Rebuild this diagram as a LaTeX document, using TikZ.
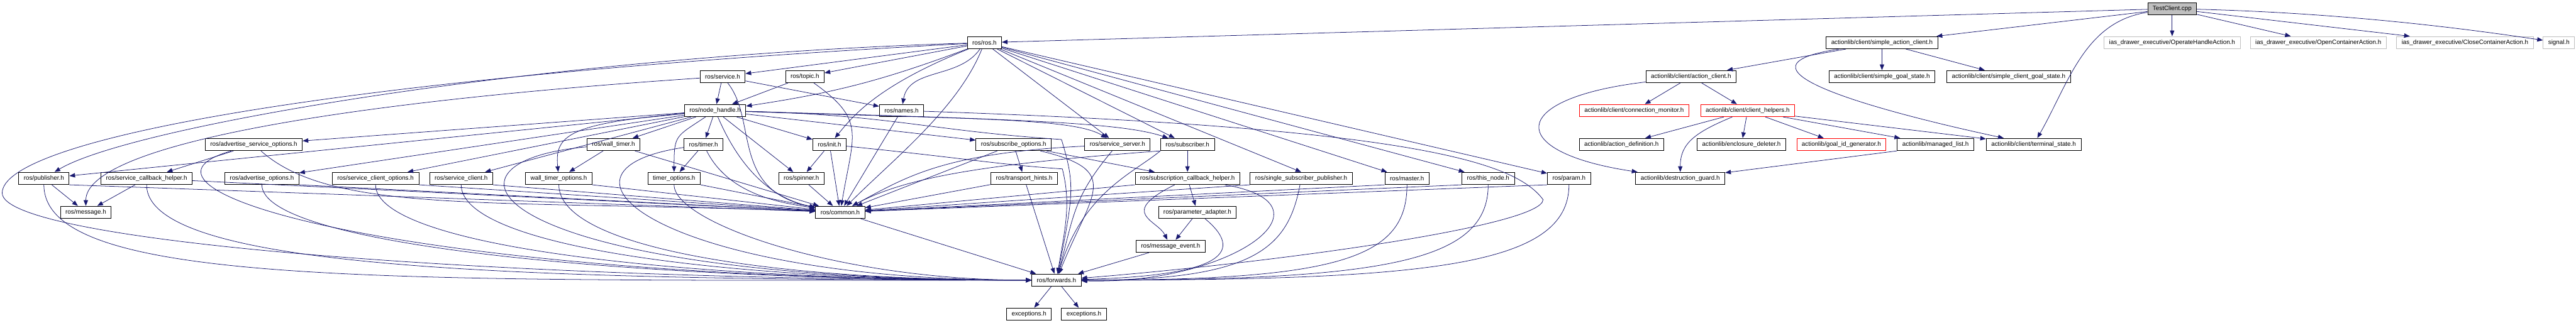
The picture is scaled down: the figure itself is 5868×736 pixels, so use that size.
\documentclass[tikz,border=0pt]{standalone}
\usepackage{fontspec}
\setmainfont{Liberation Sans}
\usetikzlibrary{arrows.meta}
\definecolor{edgeblue}{RGB}{25,25,112}
\definecolor{doxgrey}{RGB}{191,191,191}
\begin{document}
\begin{tikzpicture}[x=1pt,y=1pt,>={Triangle[length=13pt,width=10pt]}]
    \tikzset{box/.style={draw=black, line width=1.2pt, fill=white, minimum height=28pt, inner xsep=11.5pt, inner ysep=0pt, font=\fontsize{14.1}{17}\selectfont},
        redbox/.style={box, draw=red},
        greybox/.style={box, draw=doxgrey},
        rootbox/.style={box, fill=doxgrey},
        incl/.style={->, draw=edgeblue, line width=1.1pt}}
    \useasboundingbox (0,0) rectangle (5868,-736);
    % row 0 and 1
    \node[rootbox] (test) at (4948,-19.7) {TestClient.cpp};
    \node[box] (ros) at (2242.5,-97.2) {ros/ros.h};
    \node[box] (sac) at (4287,-97.2) {actionlib/client/simple\_action\_client.h};
    \node[greybox] (operate) at (4948,-97.2) {ias\_drawer\_executive/OperateHandleAction.h};
    \node[greybox] (openc) at (5281,-97.2) {ias\_drawer\_executive/OpenContainerAction.h};
    \node[greybox] (closec) at (5615,-97.2) {ias\_drawer\_executive/CloseContainerAction.h};
    \node[greybox] (signal) at (5829,-97.2) {signal.h};
    % row 2
    \node[box] (service) at (1646,-174.6) {ros/service.h};
    \node[box] (topic) at (1833.5,-174.6) {ros/topic.h};
    \node[box] (ac) at (3852,-174.6) {actionlib/client/action\_client.h};
    \node[box] (sgs) at (4287,-174.6) {actionlib/client/simple\_goal\_state.h};
    \node[box] (scgs) at (4575.5,-174.6) {actionlib/client/simple\_client\_goal\_state.h};
    % row 3
    \node[box] (nh) at (1629,-252) {ros/node\_handle.h};
    \node[box] (names) at (2053.5,-252) {ros/names.h};
    \node[redbox] (cm) at (3722.5,-252) {actionlib/client/connection\_monitor.h};
    \node[redbox] (ch) at (3981,-252) {actionlib/client/client\_helpers.h};
    % row 4
    \node[box] (aso) at (578,-329.4) {ros/advertise\_service\_options.h};
    \node[box] (wtimer) at (1397.5,-329.4) {ros/wall\_timer.h};
    \node[box] (timer) at (1602.5,-329.4) {ros/timer.h};
    \node[box] (init) at (1889.5,-329.4) {ros/init.h};
    \node[box] (subopt) at (2309,-329.4) {ros/subscribe\_options.h};
    \node[box] (srvserver) at (2545.5,-329.4) {ros/service\_server.h};
    \node[box] (sub) at (2705,-329.4) {ros/subscriber.h};
    \node[box] (adef) at (3693.5,-329.4) {actionlib/action\_definition.h};
    \node[box] (edel) at (3967,-329.4) {actionlib/enclosure\_deleter.h};
    \node[redbox] (gid) at (4194.5,-329.4) {actionlib/goal\_id\_generator.h};
    \node[box] (mlist) at (4409,-329.4) {actionlib/managed\_list.h};
    \node[box] (tstate) at (4632.5,-329.4) {actionlib/client/terminal\_state.h};
    % row 5
    \node[box] (pub) at (100,-406.7) {ros/publisher.h};
    \node[box] (sch) at (334,-406.7) {ros/service\_callback\_helper.h};
    \node[box] (ao) at (596.5,-406.7) {ros/advertise\_options.h};
    \node[box] (sco) at (855.5,-406.7) {ros/service\_client\_options.h};
    \node[box] (sclient) at (1050.5,-406.7) {ros/service\_client.h};
    \node[box] (wtopt) at (1273,-406.7) {wall\_timer\_options.h};
    \node[box] (tmopt) at (1535.5,-406.7) {timer\_options.h};
    \node[box] (spinner) at (1825.5,-406.7) {ros/spinner.h};
    \node[box] (th) at (2333,-406.7) {ros/transport\_hints.h};
    \node[box] (sbch) at (2705,-406.7) {ros/subscription\_callback\_helper.h};
    \node[box] (ssp) at (2964,-406.7) {ros/single\_subscriber\_publisher.h};
    \node[box] (master) at (3205,-406.7) {ros/master.h};
    \node[box] (thisnode) at (3390,-406.7) {ros/this\_node.h};
    \node[box] (param) at (3574,-406.7) {ros/param.h};
    \node[box] (dguard) at (3827.5,-406.7) {actionlib/destruction\_guard.h};
    % rows 6 to 9
    \node[box] (msg) at (195.5,-484) {ros/message.h};
    \node[box] (common) at (1914,-484) {ros/common.h};
    \node[box] (padapt) at (2727.5,-484) {ros/parameter\_adapter.h};
    \node[box] (mevent) at (2666.5,-561.4) {ros/message\_event.h};
    \node[box] (fwd) at (2406.5,-638.7) {ros/forwards.h};
    \node[box] (exc1) at (2344,-716.1) {exceptions.h};
    \node[box] (exc2) at (2469,-716.1) {exceptions.h};
    % TestClient.cpp
    \draw[incl] (test) -- (ros);
    \draw[incl] (test) -- (sac);
    \draw[incl] (test) .. controls +(-200,-30) and +(80,140) .. (tstate);
    \draw[incl] (test) -- (operate);
    \draw[incl] (test) -- (openc);
    \draw[incl] (test) -- (closec);
    \draw[incl] (test) .. controls +(400,-10) and +(-200,30) .. (signal);
    % actionlib
    \draw[incl] (sac) -- (ac);
    \draw[incl] (sac) -- (sgs);
    \draw[incl] (sac) -- (scgs);
    \draw[incl] (sac) .. controls +(-400,-60) and +(-280,60) .. (tstate);
    \draw[incl] (ac) -- (cm);
    \draw[incl] (ac) -- (ch);
    \draw[incl] (ac) .. controls +(-420,-50) and +(-400,60) .. (dguard);
    \draw[incl] (ch) -- (adef);
    \draw[incl] (ch) -- (edel);
    \draw[incl] (ch) .. controls +(-120,-50) and +(0,80) .. (dguard);
    \draw[incl] (ch) -- (gid);
    \draw[incl] (ch) -- (mlist);
    \draw[incl] (ch) -- (tstate);
    \draw[incl] (mlist.south west) -- (dguard);
    % ros/ros.h
    \draw[incl] (ros) -- (service);
    \draw[incl] (ros) -- (topic);
    \draw[incl] (ros) to[bend left=6] (nh);
    \draw[incl] (ros) to[out=235,in=80] (names);
    \draw[incl] (ros) .. controls +(-1000,-30) and +(200,120) .. (pub);
    \draw[incl] (ros) .. controls +(-250,-100) and +(50,60) .. (init);
    \draw[incl] (ros) .. controls +(-60,-150) and +(120,120) .. (common);
    \draw[incl] (ros) -- (srvserver);
    \draw[incl] (ros) -- (sub);
    \draw[incl] (ros) -- (ssp.north);
    \draw[incl] (ros) -- (master);
    \draw[incl] (ros) -- (thisnode);
    \draw[incl] (ros) -- (param);
    \draw[incl] (ros) .. controls +(-1500,-80) and +(0,120) .. (5,-440) .. controls +(0,-110) and +(-1300,0) .. (fwd);
    % ros/service.h, ros/topic.h
    \draw[incl] (service) -- (nh);
    \draw[incl] (service) -- (names);
    \draw[incl] (service) .. controls +(80,-100) and +(-250,50) .. (common);
    \draw[incl] (service) .. controls +(-900,-60) and +(0,150) .. (msg);
    \draw[incl] (topic) -- (nh);
    \draw[incl] (topic) .. controls +(140,-100) and +(30,180) .. (common);
    % ros/node_handle.h
    \draw[incl] (nh) -- (pub);
    \draw[incl] (nh) -- (aso);
    \draw[incl] (nh) -- (ao);
    \draw[incl] (nh) -- (sco);
    \draw[incl] (nh) -- (sclient);
    \draw[incl] (nh) -- (wtimer);
    \draw[incl] (nh) .. controls +(-330,-30) and +(-10,100) .. (wtopt);
    \draw[incl] (nh) -- (timer);
    \draw[incl] (nh) .. controls +(-90,-60) and +(0,100) .. (tmopt);
    \draw[incl] (nh) -- (init);
    \draw[incl] (nh) -- (spinner);
    \draw[incl] (nh) .. controls +(60,-140) and +(-150,30) .. (common);
    \draw[incl] (nh) -- (subopt);
    \draw[incl] (nh) .. controls +(600,-20) and +(-100,60) .. (srvserver);
    \draw[incl] (nh) .. controls +(700,-20) and +(-150,50) .. (sub);
    \draw[incl] (nh) .. controls +(400,-10) and +(-300,20) .. (2418,-318) .. controls +(30,-100) and +(40,200) .. (fwd);
    % ros/names.h
    \draw[incl] (names) -- (common);
    \draw[incl] (names) .. controls +(1200,-40) and +(-60,80) .. (3515,-455) .. controls +(0,-60) and +(500,40) .. (fwd);
    % publisher side
    \draw[incl] (pub) -- (msg);
    \draw[incl] (pub.south east) -- (common);
    \draw[incl] (pub) .. controls +(0,-250) and +(-1500,0) .. (fwd);
    \draw[incl] (sch) -- (msg);
    \draw[incl] (sch) -- (common);
    \draw[incl] (sch) .. controls +(0,-200) and +(-1300,0) .. (fwd);
    \draw[incl] (aso) -- (sch);
    \draw[incl] (aso) .. controls +(180,-160) and +(-800,30) .. (common);
    \draw[incl] (aso) .. controls +(-350,-100) and +(-1500,0) .. (fwd);
    \draw[incl] (ao.south east) -- (common);
    \draw[incl] (ao) .. controls +(0,-150) and +(-1000,0) .. (fwd);
    \draw[incl] (sco.south east) -- (common);
    \draw[incl] (sco) .. controls +(0,-150) and +(-900,0) .. (fwd);
    \draw[incl] (sclient.south east) -- (common);
    \draw[incl] (sclient) .. controls +(0,-150) and +(-800,0) .. (fwd);
    % timers, init, spinner
    \draw[incl] (wtimer) -- (wtopt);
    \draw[incl] (wtimer) -- (common);
    \draw[incl] (wtimer) .. controls +(-450,-40) and +(-1300,0) .. (fwd);
    \draw[incl] (wtopt.south east) -- (common);
    \draw[incl] (wtopt) .. controls +(0,-150) and +(-700,0) .. (fwd);
    \draw[incl] (timer) -- (tmopt);
    \draw[incl] (timer) .. controls +(60,-120) and +(-120,20) .. (common);
    \draw[incl] (timer) .. controls +(-400,-60) and +(-900,0) .. (fwd);
    \draw[incl] (tmopt.south east) -- (common);
    \draw[incl] (tmopt) .. controls +(0,-100) and +(-500,0) .. (fwd);
    \draw[incl] (spinner) -- (common);
    \draw[incl] (init) -- (spinner);
    \draw[incl] (init) -- (common);
    \draw[incl] (init) .. controls +(300,-30) and +(-150,10) .. (2420,-385) .. controls +(20,-80) and +(20,120) .. (fwd);
    % subscriber side
    \draw[incl] (subopt) -- (th);
    \draw[incl] (subopt) -- (sbch);
    \draw[incl] (subopt) -- (common);
    \draw[incl] (subopt) .. controls +(250,-60) and +(80,200) .. (fwd);
    \draw[incl] (srvserver) .. controls +(-400,-20) and +(150,80) .. (common);
    \draw[incl] (srvserver) .. controls +(-100,-120) and +(40,150) .. (fwd);
    \draw[incl] (sub) -- (sbch);
    \draw[incl] (sub.south west) .. controls +(-400,-30) and +(150,80) .. (common);
    \draw[incl] (sub.south west) .. controls +(-60,-50) and +(60,200) .. (fwd);
    \draw[incl] (th) -- (common);
    \draw[incl] (th) -- (fwd);
    \draw[incl] (sbch) -- (padapt);
    \draw[incl] (sbch) .. controls +(-160,-80) and +(-30,60) .. (mevent);
    \draw[incl] (sbch) .. controls +(350,-60) and +(400,-10) .. (fwd);
    \draw[incl] (sbch.south west) -- (common);
    \draw[incl] (padapt) -- (mevent);
    \draw[incl] (padapt) .. controls +(120,-100) and +(350,10) .. (fwd);
    \draw[incl] (mevent) -- (fwd);
    \draw[incl] (ssp.south west) -- (common);
    \draw[incl] (ssp) .. controls +(-30,-160) and +(450,0) .. (fwd);
    \draw[incl] (master.south west) -- (common);
    \draw[incl] (master) .. controls +(0,-180) and +(650,0) .. (fwd);
    \draw[incl] (thisnode.south west) -- (common);
    \draw[incl] (thisnode) .. controls +(0,-190) and +(750,0) .. (fwd);
    \draw[incl] (param.south west) -- (common);
    \draw[incl] (param) .. controls +(0,-200) and +(850,0) .. (fwd);
    % ros/common.h, ros/forwards.h
    \draw[incl] (common) -- (fwd);
    \draw[incl] (fwd) -- (exc1);
    \draw[incl] (fwd) -- (exc2);
\end{tikzpicture}
\end{document}
